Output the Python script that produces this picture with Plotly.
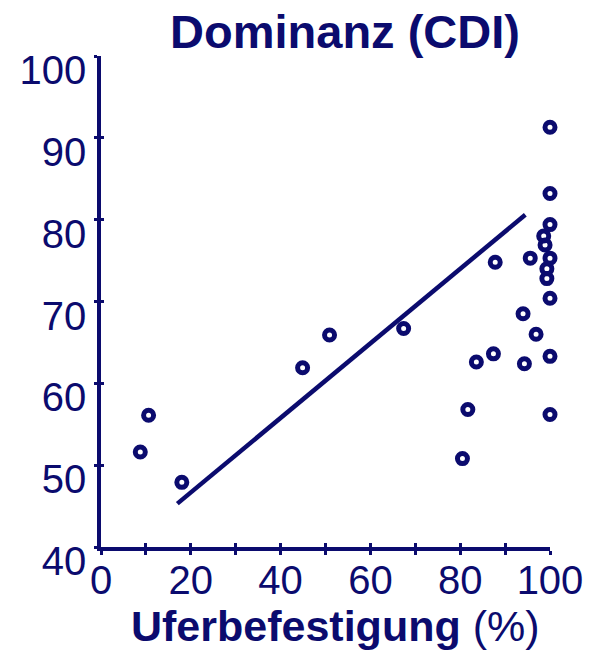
import plotly.graph_objects as go

# Data
uferbefestigung = [8.75, 10.6, 18.0, 44.9, 50.9, 67.4, 80.5, 81.7, 83.6, 87.4, 87.8,
                   94.0, 94.3, 95.6, 96.9, 98.6, 98.9, 99.3, 99.3,
                   100, 100, 100, 100, 100, 100, 100]
dominanz = [51.6, 56.1, 47.9, 61.9, 65.9, 66.7, 50.8, 56.8, 62.6, 63.6, 74.8,
            68.5, 62.4, 75.3, 66.0, 78.0, 76.9, 74.0, 72.8,
            91.3, 83.2, 79.4, 75.3, 70.4, 63.3, 56.2]

fit_x = [17.0, 94.5]
fit_y = [45.3, 80.6]

x_ticks = [0, 20, 40, 60, 80, 100]
x_minor = [0, 10, 20, 30, 40, 50, 60, 70, 80, 90, 100]
y_ticks = [40, 50, 60, 70, 80, 90, 100]

title_text = "Dominanz (CDI)"
x_title = "<b>Uferbefestigung</b> (%)"

NAVY = "#0b0b6e"
FONT = "Liberation Sans, Arial, sans-serif"

fig = go.Figure()

fig.add_trace(go.Scatter(
    x=fit_x, y=fit_y, mode="lines",
    line=dict(color=NAVY, width=4.5),
    cliponaxis=False, showlegend=False, hoverinfo="skip",
))

fig.add_trace(go.Scatter(
    x=uferbefestigung, y=dominanz, mode="markers",
    marker=dict(symbol="circle", size=10, color="rgba(255,255,255,0)",
                line=dict(color=NAVY, width=5)),
    cliponaxis=False, showlegend=False,
))

# invisible trace on overlay axes so inside ticks show
fig.add_trace(go.Scatter(x=[None], y=[None], xaxis="x2", yaxis="y2",
                         showlegend=False, hoverinfo="skip"))

L, R, T, B = 100.7, 62, 55.7, 103.3
W, H = 612, 650

fig.update_layout(
    width=W, height=H,
    margin=dict(l=L, r=R, t=T, b=B, pad=0),
    paper_bgcolor="white", plot_bgcolor="white",
    font=dict(family=FONT, color=NAVY),
    title=dict(text=f"<b>{title_text}</b>", font=dict(size=47, color=NAVY, family=FONT),
               x=345 / W, xref="container", xanchor="center",
               y=1 - 32 / H, yref="container", yanchor="middle"),
    xaxis=dict(
        range=[0, 100], tickmode="array", tickvals=x_ticks,
        ticktext=[str(v) for v in x_ticks],
        showgrid=False, zeroline=False,
        showline=True, linecolor=NAVY, linewidth=3.5,
        ticks="outside", ticklen=4, tickwidth=3, tickcolor=NAVY,
        minor=dict(tickmode="array", tickvals=x_minor, ticks="outside",
                   ticklen=4, tickwidth=3, tickcolor=NAVY),
        tickfont=dict(size=40, color=NAVY, family=FONT),
        ticklabelstandoff=-9,
    ),
    yaxis=dict(
        range=[40, 100], tickmode="array", tickvals=y_ticks,
        ticktext=[str(v) for v in y_ticks],
        showgrid=False, zeroline=False,
        showline=True, linecolor=NAVY, linewidth=3.5,
        ticks="outside", ticklen=3, tickwidth=3, tickcolor=NAVY,
        tickfont=dict(size=40, color=NAVY, family=FONT),
        ticklabelshift=14,
        ticklabelstandoff=0,
    ),
    xaxis2=dict(
        overlaying="x", range=[0, 100], tickmode="array", tickvals=x_minor,
        showticklabels=False, showgrid=False, zeroline=False, showline=False,
        ticks="inside", ticklen=4, tickwidth=3, tickcolor=NAVY, side="bottom",
    ),
    yaxis2=dict(
        overlaying="y", range=[40, 100], tickmode="array", tickvals=y_ticks,
        showticklabels=False, showgrid=False, zeroline=False, showline=False,
        ticks="inside", ticklen=3, tickwidth=3, tickcolor=NAVY, side="left",
    ),
    annotations=[dict(
        text=x_title, xref="paper", yref="paper",
        x=(335 - L) / (W - L - R), y=(546.7 - 626) / (H - T - B),
        xanchor="center", yanchor="middle", showarrow=False,
        font=dict(size=43, color=NAVY, family=FONT),
    )],
)

fig.write_html("out.html")
